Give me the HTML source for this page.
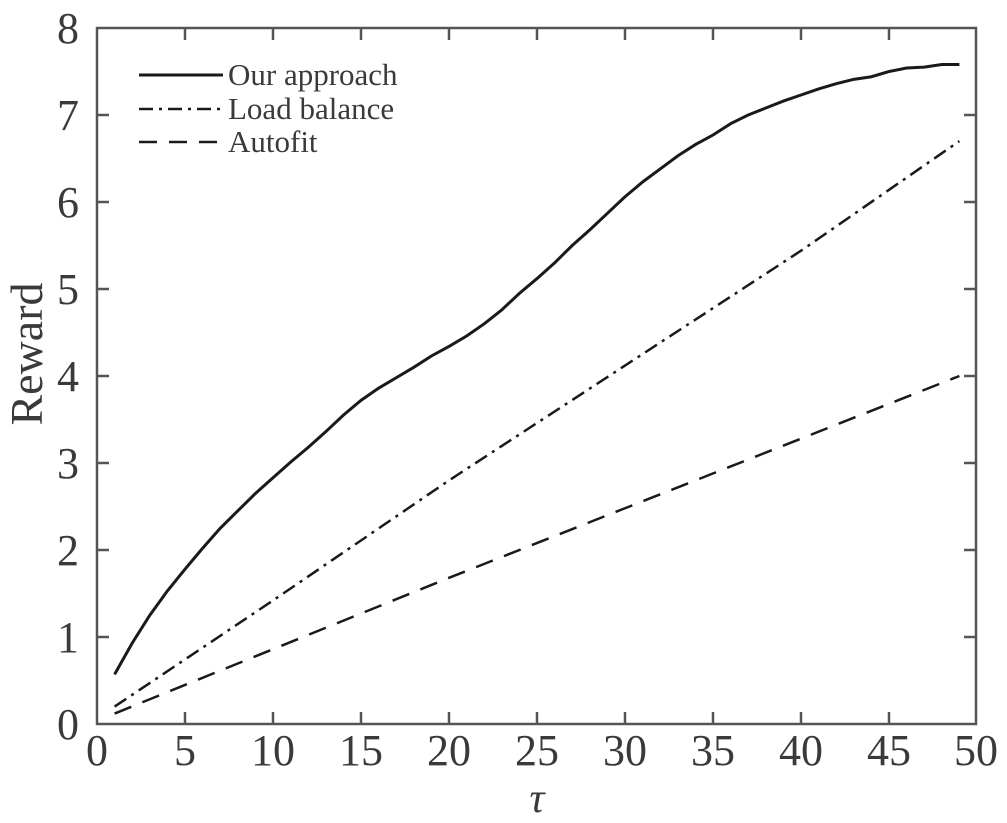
<!DOCTYPE html>
<html><head><meta charset="utf-8"><style>
html,body{margin:0;padding:0;background:#fff;}
svg{display:block;}
text{font-family:"Liberation Serif",serif;fill:#3a3a3a;}
</style></head><body>
<svg width="1007" height="823" viewBox="0 0 1007 823" xmlns="http://www.w3.org/2000/svg">
<g stroke="#555" stroke-width="2.5" fill="none">
<rect x="97" y="28" width="879" height="696"/>
<path d="M185,724v-12M273,724v-12M361,724v-12M449,724v-12M537,724v-12M625,724v-12M713,724v-12M801,724v-12M889,724v-12
M185,28v12M273,28v12M361,28v12M449,28v12M537,28v12M625,28v12M713,28v12M801,28v12M889,28v12
M97,637h12M97,550h12M97,463h12M97,376h12M97,289h12M97,202h12M97,115h12
M976,637h-12M976,550h-12M976,463h-12M976,376h-12M976,289h-12M976,202h-12M976,115h-12"/>
</g>
<g font-size="44" text-anchor="middle">
<text x="97" y="765">0</text><text x="185" y="765">5</text><text x="273" y="765">10</text><text x="361" y="765">15</text><text x="449" y="765">20</text><text x="537" y="765">25</text><text x="625" y="765">30</text><text x="713" y="765">35</text><text x="801" y="765">40</text><text x="889" y="765">45</text><text x="976" y="765">50</text>
</g>
<g font-size="44" text-anchor="end">
<text x="79" y="739">0</text><text x="79" y="652">1</text><text x="79" y="565">2</text><text x="79" y="478">3</text><text x="79" y="391">4</text><text x="79" y="304">5</text><text x="79" y="217">6</text><text x="79" y="130">7</text><text x="79" y="43">8</text>
</g>
<text x="0" y="0" font-size="46" text-anchor="middle" transform="translate(42,354) rotate(-90)">Reward</text>
<text x="537" y="812" font-size="42" font-style="italic" text-anchor="middle">τ</text>
<g transform="translate(97,724) scale(17.6,-87)" fill="none" stroke="#1a1a1a">
<polyline vector-effect="non-scaling-stroke" stroke-width="3" points="1,0.57 2,0.93 3,1.25 4,1.53 5,1.78 6,2.02 7,2.25 8,2.45 9,2.65 10,2.83 11,3.01 12,3.18 13,3.36 14,3.55 15,3.72 16,3.86 17,3.98 18,4.1 19,4.23 20,4.34 21,4.46 22,4.6 23,4.76 24,4.95 25,5.12 26,5.3 27,5.5 28,5.68 29,5.87 30,6.06 31,6.23 32,6.38 33,6.53 34,6.66 35,6.77 36,6.9 37,7.0 38,7.08 39,7.16 40,7.23 41,7.3 42,7.36 43,7.41 44,7.44 45,7.5 46,7.54 47,7.55 48,7.58 49,7.58"/>
<polyline vector-effect="non-scaling-stroke" stroke-width="2.5" stroke-dasharray="14,6,3,6" points="1,0.2 10,1.42 20,2.8 30,4.12 40,5.44 49,6.7"/>
<polyline vector-effect="non-scaling-stroke" stroke-width="2.5" stroke-dasharray="18,12" points="1,0.12 10,0.86 20,1.68 30,2.48 40,3.28 49,4.0"/>
</g>
<g stroke="#1a1a1a" fill="none">
<line x1="139" y1="75" x2="223" y2="75" stroke-width="3"/>
<line x1="139" y1="109" x2="223" y2="109" stroke-width="2.5" stroke-dasharray="14,6,3,6"/>
<line x1="139" y1="142" x2="223" y2="142" stroke-width="2.5" stroke-dasharray="18,12"/>
</g>
<g font-size="31">
<text x="228" y="85">Our approach</text>
<text x="228" y="119">Load balance</text>
<text x="228" y="152">Autofit</text>
</g>
</svg>
</body></html>
